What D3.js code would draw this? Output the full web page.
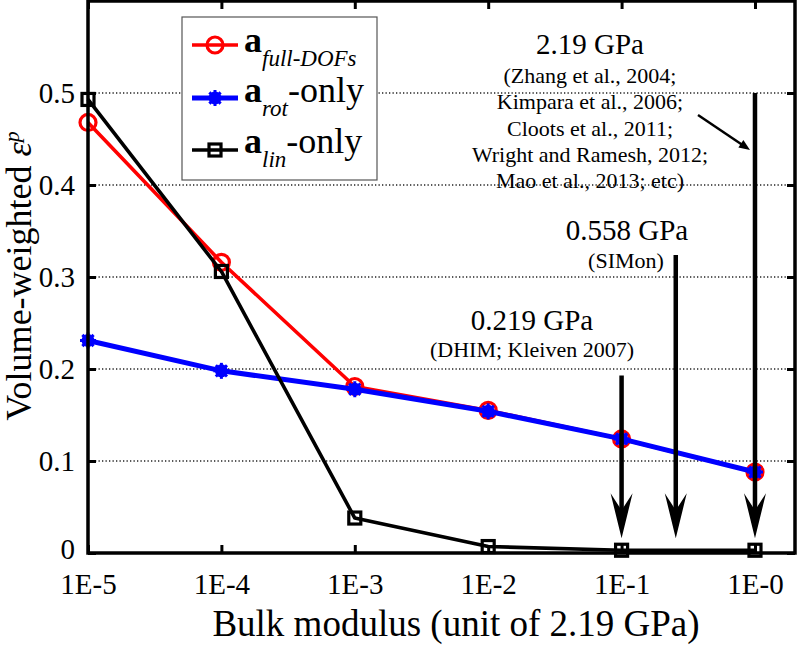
<!DOCTYPE html>
<html>
<head>
<meta charset="utf-8">
<script src="https://cdn.jsdelivr.net/npm/d3@7"></script>
<style>
  body { margin: 0; background: #fff; }
  svg { display: block; font-family: "Liberation Serif", "Times New Roman", serif; }
</style>
</head>
<body>
<svg id="chart" width="800" height="649"></svg>
<script>
// ---- data ----
const categories = ["1E-5", "1E-4", "1E-3", "1E-2", "1E-1", "1E-0"];
const exponents = [-5, -4, -3, -2, -1, 0];
const fullDOFs = [0.468, 0.316, 0.181, 0.155, 0.124, 0.088];
const rotOnly = [0.231, 0.198, 0.178, 0.154, 0.124, 0.088];
const linOnly = [0.493, 0.306, 0.038, 0.007, 0.003, 0.003];
const yTicks = [0, 0.1, 0.2, 0.3, 0.4, 0.5];
const yTickLabels = ["0", "0.1", "0.2", "0.3", "0.4", "0.5"];
// annotations: bulk modulus in GPa, arrow top value
const arrowGPa = [0.219, 0.558, 2.19];
const arrowTop = [0.193, 0.324, 0.5];
const arrowTip = 0.016;
const refGPa = 2.19;

const svg = d3.select("#chart");
const L = 88, R = 795, T = 1, B = 553;
const x = d3.scaleLinear().domain([-5, 0.3]).range([L, R]);
const y = d3.scaleLinear().domain([0, 0.6]).range([B, T]);

// grid
svg.append("g").selectAll("line").data(yTicks.filter(d => d > 0)).join("line")
  .attr("x1", L).attr("x2", R).attr("y1", d => y(d)).attr("y2", d => y(d))
  .attr("stroke", "#222").attr("stroke-width", 1.3).attr("stroke-dasharray", "1.3,2.2");

// axes with inward ticks
const tickLen = 8;
const axB = svg.append("g").attr("transform", `translate(0,${B})`)
  .call(d3.axisBottom(x).tickValues(exponents).tickFormat((d, i) => categories[i]).tickSizeInner(-tickLen).tickSizeOuter(0).tickPadding(tickLen + 12));
const axT = svg.append("g").attr("transform", `translate(0,${T})`)
  .call(d3.axisTop(x).tickValues(exponents).tickFormat("").tickSizeInner(-tickLen).tickSizeOuter(0));
const axL = svg.append("g").attr("transform", `translate(${L},0)`)
  .call(d3.axisLeft(y).tickValues(yTicks).tickFormat((d, i) => yTickLabels[i]).tickSizeInner(-tickLen).tickSizeOuter(0).tickPadding(tickLen + 5));
const axR = svg.append("g").attr("transform", `translate(${R},0)`)
  .call(d3.axisRight(y).tickValues(yTicks).tickFormat("").tickSizeInner(-tickLen).tickSizeOuter(0));
[axB, axT, axL, axR].forEach(g => {
  g.select(".domain").remove();
  g.selectAll(".tick line").attr("stroke", "#000").attr("stroke-width", 3);
  g.selectAll("text").attr("font-family", "Liberation Serif").attr("font-size", 29).attr("fill", "#000");
});
axB.selectAll("text").attr("dy", "0.71em");
axL.selectAll("text").attr("dy", (d) => d === 0 ? "0.2em" : "0.32em");

// series lines
const line = d3.line().x((d, i) => x(exponents[i])).y(d => y(d));

function drawSeries(vals, color, width, marker) {
  const g = svg.append("g");
  g.append("path").datum(vals).attr("d", line).attr("fill", "none")
    .attr("stroke", color).attr("stroke-width", width).attr("stroke-linejoin", "round");
  const m = g.selectAll("g.m").data(vals).join("g")
    .attr("transform", (d, i) => `translate(${x(exponents[i])},${y(d)})`);
  marker(m, color);
}
function circleMarker(sel, color) {
  sel.append("circle").attr("r", 8).attr("fill", "none").attr("stroke", color).attr("stroke-width", 3.2);
}
function starMarker(sel, color) {
  const s = 8;
  sel.append("circle").attr("r", 6.5).attr("fill", color);
  [[-s, 0, s, 0], [0, -s, 0, s], [-s * 0.7, -s * 0.7, s * 0.7, s * 0.7], [-s * 0.7, s * 0.7, s * 0.7, -s * 0.7]].forEach(c => {
    sel.append("line").attr("x1", c[0]).attr("y1", c[1]).attr("x2", c[2]).attr("y2", c[3])
      .attr("stroke", color).attr("stroke-width", 3);
  });
}
function squareMarker(sel, color) {
  sel.append("rect").attr("x", -6).attr("y", -6).attr("width", 12).attr("height", 12)
    .attr("fill", "none").attr("stroke", color).attr("stroke-width", 3.2);
}
drawSeries(fullDOFs, "#ff0000", 3.6, circleMarker);
drawSeries(rotOnly, "#0000ff", 5, starMarker);
drawSeries(linOnly, "#000000", 3.6, squareMarker);

// frame
svg.append("rect").attr("x", L).attr("y", T).attr("width", R - L).attr("height", B - T)
  .attr("fill", "none").attr("stroke", "#000").attr("stroke-width", 3.5);

// vertical arrows
function arrowHead(tx, ty) {
  return `M${tx},${ty} L${tx - 11},${ty - 45} L${tx},${ty - 28} L${tx + 11},${ty - 45} Z`;
}
arrowGPa.forEach((g, i) => {
  const ax = x(Math.log10(g / refGPa));
  svg.append("line").attr("x1", ax).attr("x2", ax).attr("y1", y(arrowTop[i])).attr("y2", y(arrowTip) - 20)
    .attr("stroke", "#000").attr("stroke-width", 4.5);
  svg.append("path").attr("d", arrowHead(ax, y(arrowTip))).attr("fill", "#000");
});
// small diagonal arrow
{
  const x1 = 698, y1 = 115, x2 = 750, y2 = 150;
  svg.append("line").attr("x1", x1).attr("y1", y1).attr("x2", x2 - 6).attr("y2", y2 - 4)
    .attr("stroke", "#000").attr("stroke-width", 2.5);
  const ang = Math.atan2(y2 - y1, x2 - x1) * 180 / Math.PI;
  svg.append("path").attr("d", "M0,0 L-11,-4.5 L-11,4.5 Z").attr("fill", "#000")
    .attr("transform", `translate(${x2},${y2}) rotate(${ang})`);
}

// annotation texts
function centerText(cx, by, txt, size) {
  svg.append("text").attr("x", cx).attr("y", by).attr("text-anchor", "middle")
    .attr("font-size", size).attr("fill", "#000").text(txt);
}
centerText(590, 54, "2.19 GPa", 29);
["(Zhang et al., 2004;", "Kimpara et al., 2006;", "Cloots et al., 2011;", "Wright and Ramesh, 2012;", "Mao et al., 2013; etc)"]
  .forEach((t, i) => centerText(590, 83 + i * 26.3, t, 22));
centerText(627, 240, "0.558 GPa", 29);
centerText(626, 268, "(SIMon)", 22);
centerText(532, 330, "0.219 GPa", 29);
centerText(532, 357, "(DHIM; Kleiven 2007)", 22);

// axis titles
svg.append("text").attr("x", 456).attr("y", 636).attr("text-anchor", "middle")
  .attr("font-size", 37).attr("fill", "#000").text("Bulk modulus (unit of 2.19 GPa)");
const yt = svg.append("text").attr("transform", "translate(31,276) rotate(-90)")
  .attr("text-anchor", "middle").attr("font-size", 36).attr("fill", "#000");
yt.append("tspan").text("Volume-weighted ");
yt.append("tspan").attr("font-style", "italic").text("ε");
yt.append("tspan").attr("font-style", "italic").attr("font-size", 22).attr("dy", -12).text("p");

// legend
const lg = svg.append("g");
lg.append("rect").attr("x", 182).attr("y", 17).attr("width", 195).attr("height", 163)
  .attr("fill", "#fff").attr("stroke", "#555").attr("stroke-width", 1.2);
const legendItems = [
  { sub: "full-DOFs", rest: "", color: "#ff0000", width: 3.6, marker: circleMarker, ly: 45, by: 52 },
  { sub: "rot", rest: "-only", color: "#0000ff", width: 5, marker: starMarker, ly: 98, by: 102 },
  { sub: "lin", rest: "-only", color: "#000000", width: 3.6, marker: squareMarker, ly: 150, by: 153 }
];
legendItems.forEach(it => {
  lg.append("line").attr("x1", 192).attr("x2", 238).attr("y1", it.ly).attr("y2", it.ly)
    .attr("stroke", it.color).attr("stroke-width", it.width);
  it.marker(lg.append("g").attr("transform", `translate(215,${it.ly})`), it.color);
  const t = lg.append("text").attr("x", 244).attr("y", it.by).attr("font-size", 36).attr("fill", "#000");
  t.append("tspan").attr("font-weight", "bold").text("a");
  t.append("tspan").attr("font-style", "italic").attr("font-size", 23).attr("dy", 14).text(it.sub);
  if (it.rest) t.append("tspan").attr("dy", -14).text(it.rest);
});
</script>
</body>
</html>
